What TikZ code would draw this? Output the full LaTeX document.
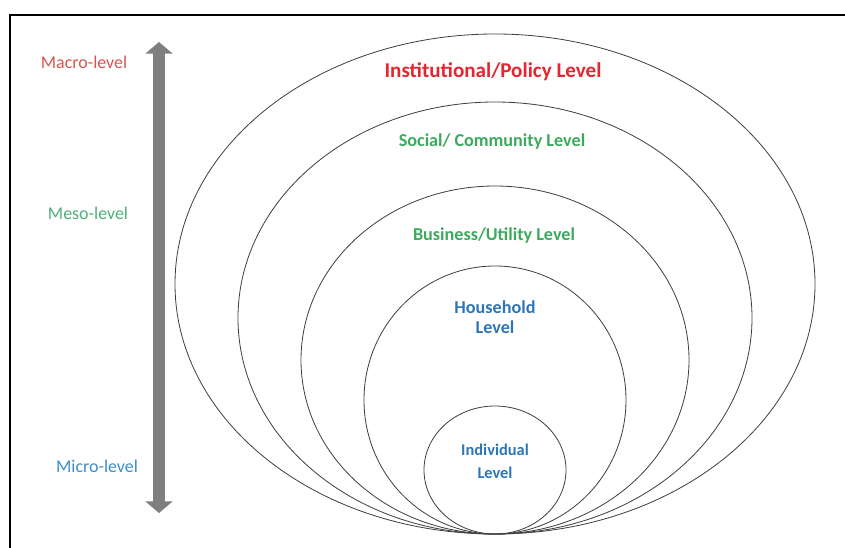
\documentclass[tikz,border=0pt]{standalone}
\usepackage{fontspec}
\setmainfont{Carlito}
\usetikzlibrary{arrows.meta}
\definecolor{macrored}{HTML}{D9534F}
\definecolor{mesogreen}{HTML}{4CAF7A}
\definecolor{microblue}{HTML}{3C8DC8}
\definecolor{polred}{HTML}{E3262F}
\definecolor{midgreen}{HTML}{3BAA5C}
\definecolor{homeblue}{HTML}{2E75B6}
\definecolor{bargray}{HTML}{7F7F7F}

\begin{document}
\begin{tikzpicture}[x=0.03cm, y=0.03cm,
  ring/.style={draw=black!75, line width=0.7pt},
  side/.style={font=\fontsize{15.3}{18}\selectfont},
  lvl/.style={font=\bfseries\fontsize{15.5}{17}\selectfont, align=center}]
\useasboundingbox (0,0) rectangle (845,547);
\begin{scope}
  \clip (0,0) rectangle (845,547);
  \draw [line width=1.7pt] (10,532) rectangle (860,-10);
  % nested levels, all touching at the bottom
  \foreach \rx/\ry in {320/250, 257/216, 194/174, 131/134, 71/64}
    {	\draw [ring] (495,13+\ry) ellipse [x radius=\rx, y radius=\ry];
    }
  % scale bar
  \coordinate (bartop) at (159,505);
  \coordinate (barbot) at (159,34);
  \draw [bargray, line width=11pt, {Triangle[width=23pt,length=10pt]}-{Triangle[width=23pt,length=10pt]}] (barbot) -- (bartop);
  \node [side, text=macrored]  (macro) at (84,485) {Macro-level};
  \node [side, text=mesogreen] (meso)  at (88,334) {Meso-level};
  \node [side, text=microblue] (micro) at (97,81)  {Micro-level};
  \node [lvl, text=polred, font=\bfseries\fontsize{18}{20}\selectfont] (policy) at (493,475) {Institutional/Policy Level};
  \node [lvl, text=midgreen]   (social)   at (492,405) {Social/ Community Level};
  \node [lvl, text=midgreen]   (business) at (494,311) {Business/Utility Level};
  \node [lvl, text=homeblue]   (household) at (495,230) {Household\\Level};
  \node [lvl, text=homeblue, font=\bfseries\fontsize{14}{19.6}\selectfont] (individual) at (495,86) {Individual\\Level};
\end{scope}
\end{tikzpicture}
\end{document}
